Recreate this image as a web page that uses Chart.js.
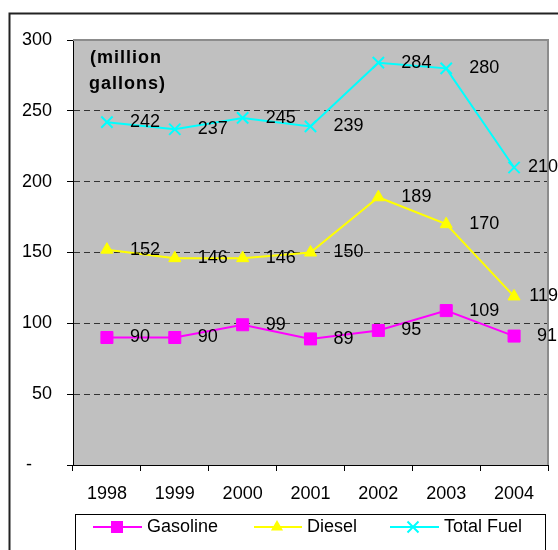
<!DOCTYPE html>
<html>
<head>
<meta charset="utf-8">
<script src="https://cdn.jsdelivr.net/npm/chart.js@4/dist/chart.umd.min.js"></script>
<style>
  html, body { margin: 0; padding: 0; background: #ffffff; }
  #wrap { width: 558px; height: 550px; position: relative; }
</style>
</head>
<body>
<div id="wrap"><canvas id="c" width="558" height="550"></canvas></div>
<script>
// ---- data ----
const years = ['1998', '1999', '2000', '2001', '2002', '2003', '2004'];
const gasoline = [90, 90, 99, 89, 95, 109, 91];
const diesel = [152, 146, 146, 150, 189, 170, 119];
const totalFuel = [242, 237, 245, 239, 284, 280, 210];
const seriesNames = ['Gasoline', 'Diesel', 'Total Fuel'];
const yTicks = [0, 50, 100, 150, 200, 250, 300];
const unitLines = ['(million', 'gallons)'];

const FONT = '"Liberation Sans", Arial, sans-serif';

function marker(ctx, style, x, y, color) {
  ctx.save();
  ctx.fillStyle = color;
  ctx.strokeStyle = color;
  ctx.lineWidth = 2;
  ctx.setLineDash([]);
  ctx.beginPath();
  if (style === 'rect') {
    ctx.rect(x - 6, y - 6, 12, 12);
    ctx.fill();
  } else if (style === 'triangle') {
    const r = 7;
    ctx.moveTo(x, y - r);
    ctx.lineTo(x + r * 0.866, y + r / 2);
    ctx.lineTo(x - r * 0.866, y + r / 2);
    ctx.closePath();
    ctx.fill();
  } else {
    const h = 5.5;
    ctx.moveTo(x - h, y - h); ctx.lineTo(x + h, y + h);
    ctx.moveTo(x + h, y - h); ctx.lineTo(x - h, y + h);
    ctx.stroke();
  }
  ctx.restore();
}

const decor = {
  id: 'decor',
  beforeDraw(chart) {
    const { ctx, chartArea: a } = chart;
    ctx.save();
    ctx.fillStyle = '#ffffff';
    ctx.fillRect(0, 0, chart.width, chart.height);
    // outer frame
    ctx.strokeStyle = '#222222';
    ctx.lineWidth = 2;
    ctx.beginPath();
    ctx.moveTo(9.5, chart.height + 5);
    ctx.lineTo(9.5, 13.5);
    ctx.lineTo(chart.width + 5, 13.5);
    ctx.stroke();
    // plot background
    ctx.fillStyle = '#C0C0C0';
    ctx.fillRect(a.left, a.top, a.right - a.left, a.bottom - a.top);
    ctx.restore();
  },
  beforeDatasetsDraw(chart) {
    const { ctx, chartArea: a } = chart;
    ctx.save();
    ctx.strokeStyle = '#8c8c8c';
    ctx.lineWidth = 2;
    ctx.beginPath();
    ctx.moveTo(a.left, a.top);
    ctx.lineTo(a.right, a.top);
    ctx.lineTo(a.right, a.bottom);
    ctx.stroke();
    ctx.restore();
  },
  afterDatasetsDraw(chart) {
    const { ctx, chartArea: a } = chart;
    ctx.save();
    ctx.font = '18px ' + FONT;
    ctx.fillStyle = '#000000';
    ctx.textBaseline = 'middle';
    ctx.textAlign = 'left';
    chart.data.datasets.forEach((ds, di) => {
      const meta = chart.getDatasetMeta(di);
      meta.data.forEach((pt, i) => {
        const txt = String(ds.data[i]);
        const w = ctx.measureText(txt).width;
        const x = Math.min(pt.x + 23, chart.width - w);
        ctx.fillText(txt, x, pt.y);
      });
    });
    // unit text
    ctx.font = 'bold 18px ' + FONT;
    if ('letterSpacing' in ctx) ctx.letterSpacing = '1px';
    ctx.fillText(unitLines[0], a.left + 17, 58);
    ctx.fillText(unitLines[1], a.left + 16, 84);
    ctx.restore();
  },
  afterDraw(chart) {
    const { ctx } = chart;
    ctx.save();
    // legend box
    ctx.strokeStyle = '#000000';
    ctx.lineWidth = 1;
    ctx.strokeRect(75.5, 514.5, 470, 60);
    const items = [
      { line: [93, 142], m: 117, t: 147 },
      { line: [254, 302], m: 277, t: 307 },
      { line: [390, 439], m: 413, t: 444 }
    ];
    const ly = 527;
    ctx.font = '18px ' + FONT;
    ctx.textBaseline = 'middle';
    ctx.textAlign = 'left';
    chart.data.datasets.forEach((ds, i) => {
      const it = items[i];
      ctx.strokeStyle = ds.borderColor;
      ctx.lineWidth = 2;
      ctx.beginPath();
      ctx.moveTo(it.line[0], ly);
      ctx.lineTo(it.line[1], ly);
      ctx.stroke();
      marker(ctx, ds.pointStyle, it.m, ly, ds.borderColor);
      ctx.fillStyle = '#000000';
      ctx.fillText(ds.label, it.t, ly);
    });
    ctx.restore();
  }
};

function ds(label, data, color, pstyle, radius) {
  return {
    label, data,
    borderColor: color,
    backgroundColor: color,
    pointBackgroundColor: color,
    pointBorderColor: color,
    pointStyle: pstyle,
    pointRadius: radius,
    pointHoverRadius: radius,
    pointBorderWidth: pstyle === 'crossRot' ? 2 : 1,
    borderWidth: 2,
    tension: 0,
    fill: false
  };
}

new Chart(document.getElementById('c'), {
  type: 'line',
  data: {
    labels: years,
    datasets: [
      ds(seriesNames[0], gasoline, '#FF00FF', 'rect', 8.5),
      ds(seriesNames[1], diesel, '#FFFF00', 'triangle', 7),
      ds(seriesNames[2], totalFuel, '#00FFFF', 'crossRot', 8)
    ]
  },
  options: {
    responsive: false,
    animation: false,
    devicePixelRatio: 1,
    layout: { padding: { top: 40, right: 6, bottom: 0, left: 0 } },
    plugins: {
      legend: { display: false },
      tooltip: { enabled: false },
      title: { display: false }
    },
    scales: {
      x: {
        type: 'category',
        offset: true,
        grid: {
          offset: true,
          drawOnChartArea: false,
          drawTicks: true,
          tickLength: 6,
          tickColor: '#000000',
          tickWidth: 1,
          color: '#000000'
        },
        border: { display: true, color: '#000000', width: 1 },
        ticks: {
          color: '#000000',
          font: { family: FONT, size: 18 },
          padding: 12,
          maxRotation: 0,
          autoSkip: false
        },
        afterFit(scale) {
          scale.height = 85;
          scale.paddingLeft = 0;
          scale.paddingRight = 0;
        }
      },
      y: {
        min: 0,
        max: 300,
        afterBuildTicks(scale) { scale.ticks = yTicks.map(v => ({ value: v })); },
        grid: {
          drawOnChartArea: true,
          drawTicks: true,
          tickLength: 6,
          tickColor: '#000000',
          tickWidth: 1,
          tickBorderDash: [],
          lineWidth: 1,
          color(ctx) {
            const v = ctx.tick && ctx.tick.value;
            return (v === 0 || v === 300) ? 'rgba(0,0,0,0)' : '#333333';
          }
        },
        border: { display: true, color: '#000000', width: 1, dash: [6, 4] },
        ticks: {
          color: '#000000',
          font: { family: FONT, size: 18 },
          padding: 15,
          callback(v) { return v === 0 ? '-    ' : String(v); }
        },
        afterFit(scale) { scale.width = 73; }
      }
    }
  },
  plugins: [decor]
});
</script>
</body>
</html>
